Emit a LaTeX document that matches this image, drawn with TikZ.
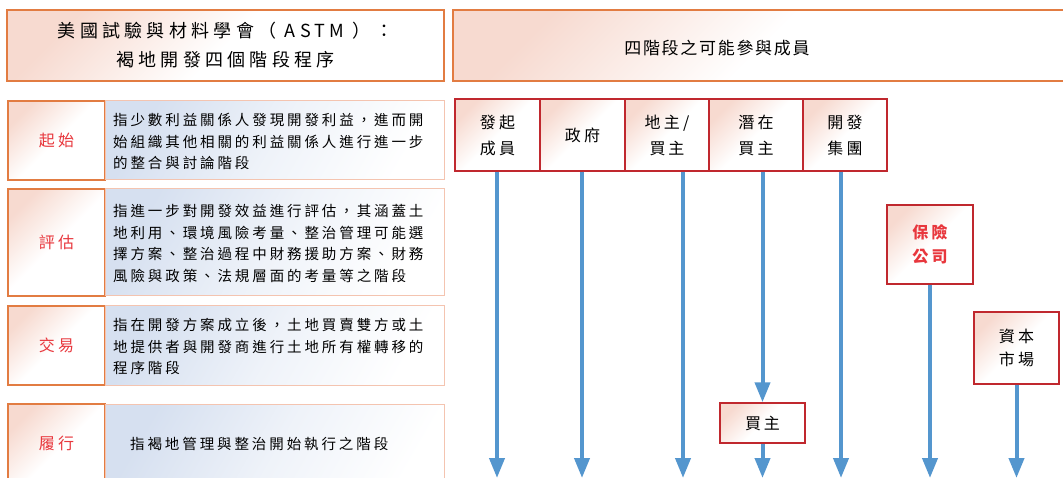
\documentclass[tikz,border=0pt]{standalone}
\usepackage{fontspec}
\setmainfont{Noto Sans CJK TC}
\newfontfamily\cjkd[LetterSpace=20]{Noto Sans CJK TC}
\newfontfamily\cjkt[LetterSpace=24]{Noto Sans CJK TC}
\newfontfamily\cjkh[LetterSpace=10]{Noto Sans CJK TC}
\usetikzlibrary{arrows.meta,calc}
\definecolor{orangeline}{RGB}{226,124,66}
\definecolor{pinkfill}{RGB}{247,218,208}
\definecolor{bluefill}{RGB}{214,224,240}
\definecolor{descline}{RGB}{244,196,176}
\definecolor{boxred}{RGB}{192,40,46}
\definecolor{labelred}{RGB}{232,55,61}
\definecolor{arrowblue}{RGB}{84,150,206}
\tikzset{
  ttlbox/.style={draw=orangeline, line width=1.1pt, top color=pinkfill, bottom color=white, middle color=white, shading angle=45, minimum height=71pt, inner sep=0pt},
  lblbox/.style={draw=orangeline, line width=1.1pt, top color=pinkfill, bottom color=white, middle color=white, shading angle=45, minimum width=97pt, inner sep=0pt, font=\cjkd\fontsize{16}{20}\selectfont, text=labelred},
  descbox/.style={draw=descline, line width=1pt, top color=bluefill, bottom color=white, middle color=white!60!bluefill, shading angle=60, minimum width=339pt, inner sep=0pt},
  desctext/.style={anchor=west, align=left, inner sep=0pt, font=\cjkd\fontsize{14.5}{21.5}\selectfont},
  membox/.style={draw=boxred, line width=1.5pt, top color=pinkfill, bottom color=white, middle color=white, shading angle=45, inner sep=0pt, align=center, font=\cjkd\fontsize{16}{26}\selectfont},
  arr/.style={draw=arrowblue, line width=4pt, -{Triangle[width=15pt,length=20pt]}}
}
\begin{document}
\begin{tikzpicture}[x=1pt,y=-1pt]
\useasboundingbox (0,0) rectangle (1063,478);
\clip (0,0) rectangle (1063,478);
% titles
\node[ttlbox, minimum width=437pt, align=center, font=\cjkt\fontsize{18}{29}\selectfont] (t1) at (225.5,45.5) {美國試驗與材料學會（ ASTM ）：\\褐地開發四個階段程序};
\node[ttlbox, minimum width=622pt] (t2) at (764,45.5) {};
\node[font=\cjkh\fontsize{17}{20}\selectfont] (t2text) at (717,48) {四階段之可能參與成員};
% stage rows
\node[lblbox, minimum height=79pt] (l1) at (56.5,140.5) {起始};
\node[descbox, minimum height=79pt] (d1) at (274.5,140.5) {};
\node[desctext] (x1) at (113,141.5) {指少數利益關係人發現開發利益，進而開\\始組織其他相關的利益關係人進行進一步\\的整合與討論階段};
\node[lblbox, minimum height=107pt] (l2) at (56.5,242.5) {評估};
\node[descbox, minimum height=107pt] (d2) at (274.5,242.5) {};
\node[desctext] (x2) at (113,243.5) {指進一步對開發效益進行評估，其涵蓋土\\地利用、環境風險考量、整治管理可能選\\擇方案、整治過程中財務援助方案、財務\\風險與政策、法規層面的考量等之階段};
\node[lblbox, minimum height=79pt] (l3) at (56.5,345.5) {交易};
\node[descbox, minimum height=79pt] (d3) at (274.5,345.5) {};
\node[desctext] (x3) at (113,346.5) {指在開發方案成立後，土地買賣雙方或土\\地提供者與開發商進行土地所有權轉移的\\程序階段};
\node[lblbox, minimum height=96pt] (l4) at (56.5,452) {};
\node[descbox, minimum height=96pt] (d4) at (274.5,452) {};
\node[font=\cjkd\fontsize{16}{20}\selectfont, text=labelred] (lt4) at (56.5,443) {履行};
\node[desctext] (x4) at (130,444) {指褐地管理與整治開始執行之階段};
% member boxes
\node[membox, minimum width=85pt, minimum height=72pt] (m1) at (497.5,135) {發起\\成員};
\node[membox, minimum width=85pt, minimum height=72pt] (m2) at (582.5,135) {政府};
\node[membox, minimum width=84pt, minimum height=72pt] (m3) at (667,135) {地主/\\買\,主};
\node[membox, minimum width=94pt, minimum height=72pt] (m4) at (756,135) {潛在\\買主};
\node[membox, minimum width=84pt, minimum height=72pt] (m5) at (845,135) {開發\\集團};
\node[membox, minimum width=86pt, minimum height=79pt, text=labelred, font=\cjkd\bfseries\fontsize{16}{24}\selectfont] (m6) at (930,244.5) {保險\\公司};
\node[membox, minimum width=85pt, minimum height=72pt, font=\cjkd\fontsize{16}{23}\selectfont] (m7) at (1016.5,348) {資本\\市場};
\node[membox, minimum width=85pt, minimum height=40pt] (b) at (762.5,423) {買\,主};
% arrow ends
\coordinate (e1) at (497,478);
\coordinate (e2) at (582,478);
\coordinate (e3) at (683,478);
\coordinate (e4) at (762.5,478);
\coordinate (e5) at (841,478);
\coordinate (e6) at (930,478);
\coordinate (e7) at (1016.5,478);
\draw[arr] (e1 |- m1.south) -- (e1);
\draw[arr] (e2 |- m2.south) -- (e2);
\draw[arr] (e3 |- m3.south) -- (e3);
\draw[arr] (m4.south -| b.north) -- (b.north);
\draw[arr] (b.south) -- (e4);
\draw[arr] (e5 |- m5.south) -- (e5);
\draw[arr] (m6.south) -- (e6);
\draw[arr] (m7.south) -- (e7);
\end{tikzpicture}
\end{document}
